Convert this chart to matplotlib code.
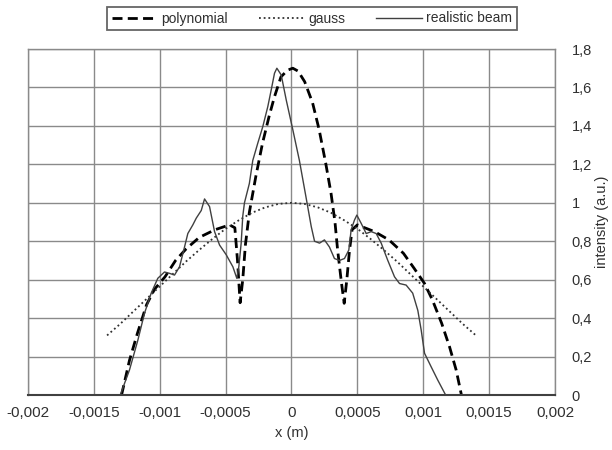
import matplotlib.pyplot as plt
from matplotlib.ticker import FixedLocator, FuncFormatter

plt.rcParams['font.family'] = ['Liberation Sans', 'DejaVu Sans']

# gauss profile
gauss_x = [-0.0014, -0.0013, -0.0012, -0.0011, -0.001, -0.0009, -0.0008, -0.0007,
           -0.0006, -0.0005, -0.0004, -0.0003, -0.0002, -0.0001, 0.0,
           0.0001, 0.0002, 0.0003, 0.0004, 0.0005, 0.0006, 0.0007, 0.0008,
           0.0009, 0.001, 0.0011, 0.0012, 0.0013, 0.0014]
gauss_y = [0.31, 0.37, 0.435, 0.50, 0.565, 0.63, 0.695, 0.755, 0.812, 0.865, 0.909,
           0.948, 0.976, 0.994, 1.0, 0.994, 0.976, 0.948, 0.909, 0.865, 0.812,
           0.755, 0.695, 0.63, 0.565, 0.50, 0.435, 0.37, 0.31]

# polynomial fit
poly_x = [-0.00129, -0.00123, -0.00117, -0.0011, -0.00104, -0.00096, -0.00088, -0.0008,
          -0.0007, -0.00058, -0.00047, -0.00043, -0.00041, -0.00039, -0.00037, -0.00035,
          -0.00032, -0.00027, -0.00022, -0.00017, -0.00013, -0.00008, -0.00003, 0.00001,
          0.00005, 0.0001, 0.00016, 0.00021, 0.00026, 0.0003, 0.00033, 0.00035, 0.00038,
          0.0004, 0.00042, 0.00044, 0.00046, 0.0005, 0.00063, 0.00074, 0.00085, 0.00093,
          0.00101, 0.00107, 0.00114, 0.0012, 0.00125, 0.00129]
poly_y = [0.0, 0.18, 0.32, 0.47, 0.55, 0.615, 0.70, 0.76, 0.82, 0.86, 0.885, 0.87, 0.70,
          0.48, 0.60, 0.78, 0.95, 1.14, 1.31, 1.45, 1.55, 1.655, 1.69, 1.70, 1.685, 1.63,
          1.52, 1.38, 1.205, 1.05, 0.90, 0.755, 0.58, 0.477, 0.60, 0.75, 0.86, 0.885, 0.85,
          0.807, 0.737, 0.66, 0.58, 0.494, 0.373, 0.25, 0.13, 0.0]

# measured beam
beam_x = [-0.0013, -0.00123, -0.001166, -0.001116, -0.001065, -0.001015, -0.000964,
          -0.000926, -0.000888, -0.00085, -0.000812, -0.000787, -0.000749, -0.000723,
          -0.000685, -0.00066, -0.000622, -0.000584, -0.000546, -0.000496, -0.000445,
          -0.000415, -0.0004, -0.000382, -0.00037, -0.000357, -0.00032, -0.000294,
          -0.000256, -0.000218, -0.00018, -0.000154, -0.000129, -0.000111, -0.000078,
          -0.00004, 0.00001, 0.00006, 0.00011, 0.00015, 0.000175, 0.000213, 0.00025,
          0.000288, 0.000326, 0.000364, 0.000402, 0.000435, 0.000453, 0.000478, 0.000496,
          0.000529, 0.000567, 0.000605, 0.000643, 0.000681, 0.000731, 0.000782, 0.00082,
          0.00087, 0.00092, 0.000959, 0.000984, 0.00101, 0.00106, 0.00111, 0.00117, 0.00125]
beam_y = [0.0, 0.13, 0.286, 0.425, 0.53, 0.607, 0.64, 0.633, 0.624, 0.667, 0.77, 0.84,
          0.885, 0.92, 0.96, 1.02, 0.98, 0.85, 0.78, 0.73, 0.667, 0.607, 0.667, 0.79, 0.93,
          1.0, 1.10, 1.22, 1.31, 1.396, 1.5, 1.587, 1.674, 1.70, 1.665, 1.535, 1.38, 1.22,
          1.03, 0.876, 0.80, 0.79, 0.807, 0.77, 0.71, 0.70, 0.71, 0.754, 0.86, 0.91, 0.936,
          0.893, 0.84, 0.85, 0.84, 0.79, 0.70, 0.615, 0.58, 0.572, 0.53, 0.44, 0.34, 0.217,
          0.147, 0.078, 0.0, 0.0]

x_ticks = [-0.002, -0.0015, -0.001, -0.0005, 0.0, 0.0005, 0.001, 0.0015, 0.002]
y_ticks = [0, 0.2, 0.4, 0.6, 0.8, 1.0, 1.2, 1.4, 1.6, 1.8]


def comma_fmt(v, pos):
    s = f"{v:.4f}".rstrip('0').rstrip('.')
    if s in ('-0', ''):
        s = '0'
    return s.replace('.', ',')


fig = plt.figure(figsize=(6.12, 4.5), dpi=100)
ax = fig.add_axes([0.0458, 0.1222, 0.861, 0.7689])

ax.plot(poly_x, poly_y, color='black', lw=2.0, linestyle=(0, (3.6, 1.9)), label='polynomial')
ax.plot(gauss_x, gauss_y, color='#303030', lw=1.3, linestyle=(0, (1, 1.6)), label='gauss')
ax.plot(beam_x, beam_y, color='#404040', lw=1.0, label='realistic beam')

ax.set_xlim(-0.002, 0.002)
ax.set_ylim(0, 1.8)
ax.xaxis.set_major_locator(FixedLocator(x_ticks))
ax.yaxis.set_major_locator(FixedLocator(y_ticks))
ax.xaxis.set_major_formatter(FuncFormatter(comma_fmt))
ax.yaxis.set_major_formatter(FuncFormatter(comma_fmt))

ax.yaxis.tick_right()
ax.yaxis.set_label_position('right')
ax.tick_params(axis='x', length=0, pad=8, labelsize=11, labelcolor='#303030')
ax.tick_params(axis='y', length=0, pad=12, labelsize=10.5, labelcolor='#303030')

ax.grid(True, color='#8a8a8a', lw=1.0)
ax.set_axisbelow(True)
for side in ('left', 'top', 'right'):
    ax.spines[side].set_color('#8a8a8a')
    ax.spines[side].set_linewidth(1.0)
ax.spines['bottom'].set_color('#404040')
ax.spines['bottom'].set_linewidth(1.5)

ax.set_xlabel('x (m)', fontsize=10.5, color='#303030', labelpad=4)
ax.set_ylabel('intensity (a.u.)', fontsize=10.5, color='#303030', labelpad=2)

leg = fig.legend(loc='center', bbox_to_anchor=(312 / 612, 1 - 18.5 / 450), ncol=3,
                 fontsize=10, frameon=True, fancybox=False, handlelength=3.3,
                 columnspacing=2.2, handletextpad=0.3, borderpad=0.35)
leg.get_frame().set_edgecolor('#404040')
leg.get_frame().set_linewidth(1.3)
for t in leg.get_texts():
    t.set_color('#303030')

fig.savefig('out.png', dpi=100)
